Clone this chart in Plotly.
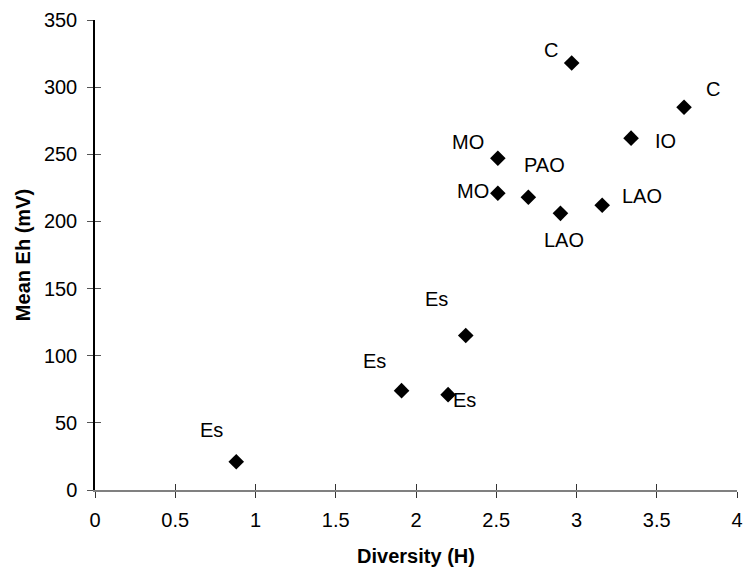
import plotly.graph_objects as go

# Data
diversity = [0.88, 1.91, 2.20, 2.31, 2.51, 2.51, 2.70, 2.90, 2.97, 3.16, 3.34, 3.67]
mean_eh = [21, 74, 71, 115, 221, 247, 218, 206, 318, 212, 262, 285]
site_labels = ["Es", "Es", "Es", "Es", "MO", "MO", "PAO", "LAO", "C", "LAO", "IO", "C"]

# Label offsets (pixels) from each point
label_dx = [-25, -27, 16, -29, -25, -30, 16, 4, -21, 40, 34, 29]
label_dy = [32, 30, -5, 37, 2, 16, 32, -27, 13, 9, -3, 18]

x_ticks = [0, 0.5, 1, 1.5, 2, 2.5, 3, 3.5, 4]
y_ticks = [0, 50, 100, 150, 200, 250, 300, 350]

FONT = "Liberation Sans, Arial, sans-serif"

fig = go.Figure()
fig.add_trace(go.Scatter(
    x=diversity, y=mean_eh, mode="markers",
    marker=dict(symbol="diamond", size=12, color="black"),
    showlegend=False, hoverinfo="x+y",
))
# invisible trace on overlay axes (for inside tick marks -> crossing ticks)
fig.add_trace(go.Scatter(
    x=diversity, y=mean_eh, mode="markers", xaxis="x2", yaxis="y2",
    marker=dict(opacity=0), showlegend=False, hoverinfo="skip",
))

for xv, yv, t, dx, dy in zip(diversity, mean_eh, site_labels, label_dx, label_dy):
    fig.add_annotation(x=xv, y=yv, text=t, showarrow=False,
                       xshift=dx, yshift=dy,
                       font=dict(family=FONT, size=20, color="black"))

fig.update_layout(
    width=744, height=569,
    margin=dict(l=95, r=7, t=20, b=79),
    paper_bgcolor="white", plot_bgcolor="white",
    font=dict(family=FONT, color="black"),
    xaxis=dict(
        range=[0, 4], tickvals=x_ticks, ticks="outside", ticklen=6,
        tickcolor="#333333", tickwidth=1,
        showline=True, linecolor="#808080", linewidth=1.5,
        showgrid=False, zeroline=False,
        tickfont=dict(size=20, family=FONT), ticklabelstandoff=5,
        title=dict(text="<b>Diversity (H)</b>", font=dict(size=20, family=FONT), standoff=19),
        automargin=False,
    ),
    yaxis=dict(
        range=[0, 350], tickvals=y_ticks, ticks="outside", ticklen=6,
        tickcolor="#555555", tickwidth=1,
        showline=True, linecolor="black", linewidth=1.5,
        showgrid=False, zeroline=False,
        tickfont=dict(size=20, family=FONT), ticklabelstandoff=6,
        title=dict(text="<b>Mean Eh (mV)</b>", font=dict(size=20, family=FONT), standoff=8),
        automargin=False,
    ),
    xaxis2=dict(
        range=[0, 4], tickvals=x_ticks, ticks="inside", ticklen=6,
        tickcolor="#333333", tickwidth=1, overlaying="x", anchor="y2", side="bottom",
        showticklabels=False, showgrid=False, zeroline=False, showline=False,
    ),
    yaxis2=dict(
        range=[0, 350], tickvals=y_ticks, ticks="inside", ticklen=6,
        tickcolor="#555555", tickwidth=1, overlaying="y", anchor="x2", side="left",
        showticklabels=False, showgrid=False, zeroline=False, showline=False,
    ),
)

fig.write_html("out.html", config={"displayModeBar": False},
               post_script="document.body.style.margin='0';")
